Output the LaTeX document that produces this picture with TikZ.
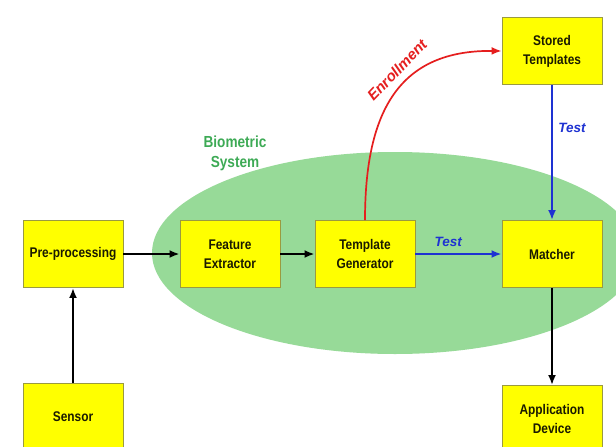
\documentclass[tikz,border=0pt]{standalone}
\usepackage{fontspec}
\setmainfont{Liberation Sans}
\newfontfamily\boxfont{Liberation Sans}[FakeStretch=0.85]
\usetikzlibrary{arrows.meta}
\definecolor{boxyellow}{HTML}{FFFF00}
\definecolor{boxedge}{HTML}{9A9A40}
\definecolor{ellgreen}{HTML}{97DA98}
\definecolor{labgreen}{HTML}{3DAA55}
\definecolor{testblue}{HTML}{1E32D2}
\definecolor{enrred}{HTML}{E51E1E}
\definecolor{boxtext}{HTML}{1A1A00}
\begin{document}
\begin{tikzpicture}[x=1pt,y=-1pt,
  blk/.style={draw=boxedge, line width=0.9pt, fill=boxyellow, minimum width=100pt, minimum height=67pt,
    align=center, text=boxtext, font=\boxfont\bfseries\fontsize{14}{19}\selectfont, inner sep=2pt},
  blkarrow/.style={line width=2pt, -{Latex[length=10pt,width=8pt]}},
  lbl/.style={font=\bfseries\itshape\fontsize{13.5}{16}\selectfont}
]
\useasboundingbox (0,0) rectangle (616,447);
\clip (0,0) rectangle (616,447);
\fill[white] (0,0) rectangle (616,447);
% biometric system region
\fill[ellgreen] (395,253) ellipse [x radius=243, y radius=101];
\node[text=labgreen, align=center, font=\boxfont\bfseries\fontsize{16}{20}\selectfont] (bs) at (235,153) {Biometric\\System};
% blocks
\node[blk] (pre) at (73,254) {Pre-processing};
\node[blk] (fe) at (230,254) {Feature\\Extractor};
\node[blk] (tg) at (365,254) {Template\\Generator};
\node[blk] (ma) at (552,254) {Matcher};
\node[blk] (st) at (552,51) {Stored\\Templates};
\node[blk] (se) at (73,417) {Sensor};
\node[blk] (ad) at (552,419) {Application\\Device};
% connectors
\draw[blkarrow] (se.north) -- (pre.south);
\draw[blkarrow] (pre.east) -- (fe.west);
\draw[blkarrow] (fe.east) -- (tg.west);
\draw[blkarrow, testblue] (tg.east) -- node[lbl, text=testblue, above=3pt, pos=0.38] (t1) {Test} (ma.west);
\draw[blkarrow, testblue] (st.south) -- node[lbl, text=testblue, right=2pt, pos=0.32] (t2) {Test} (ma.north);
\draw[blkarrow] (ma.south) -- (ad.north);
\draw[line width=1.7pt, enrred, -{Latex[length=10pt,width=8pt]}] (tg.north) .. controls (365,110) and (400,50) .. (st.west);
\node[lbl, text=enrred, rotate=46, font=\bfseries\itshape\fontsize{15}{18}\selectfont] (en) at (397,70) {Enrollment};
\end{tikzpicture}
\end{document}
